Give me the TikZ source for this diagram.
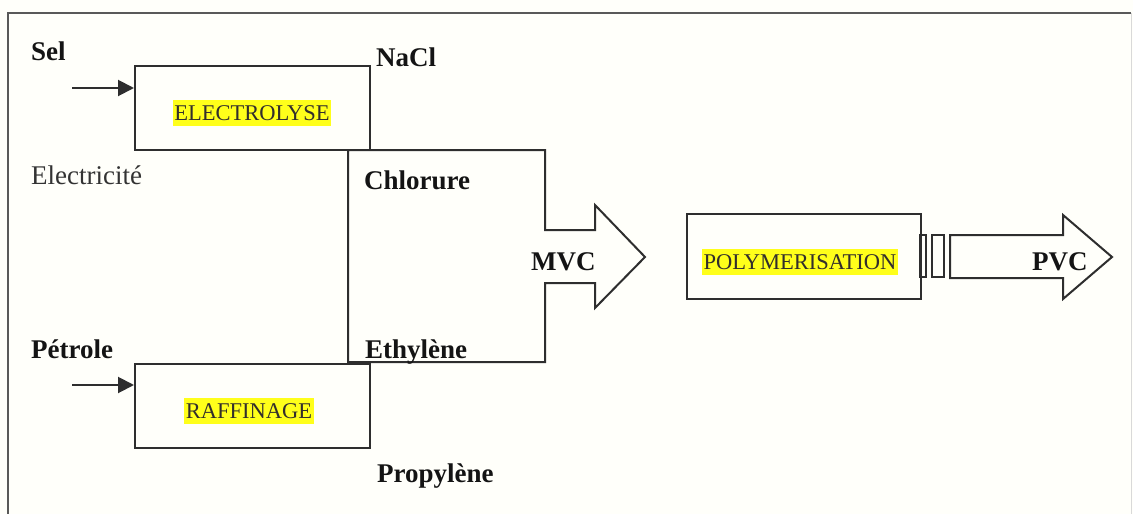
\documentclass[tikz,border=0pt]{standalone}
\usepackage{fontspec}
\setmainfont{Liberation Serif}
\usetikzlibrary{arrows.meta}
\definecolor{ln}{HTML}{2E2E2E}
\definecolor{hl}{HTML}{FFFF1A}
\begin{document}
\begin{tikzpicture}[x=1pt,y=-1pt,
  box/.style={draw=ln,line width=2pt,minimum width=235pt,minimum height=84pt,inner sep=0pt},
  boxlabel/.style={fill=hl,inner xsep=1.5pt,inner ysep=5pt,font=\fontsize{22.5}{24}\selectfont,text=black!90!yellow!70!black},
  lab/.style={inner sep=0pt,anchor=base west,font=\fontsize{27}{30}\selectfont\bfseries,text=black!92},
  reg/.style={inner sep=0pt,anchor=base west,font=\fontsize{27}{30}\selectfont,text=black!80},
  inarrow/.style={draw=ln,line width=2pt,-{Triangle[length=16pt,width=16pt]}},
  outline/.style={draw=ln,line width=2pt,line join=miter}]
\useasboundingbox (0,0) rectangle (1133,514);
\fill[white!98!yellow] (0,0) rectangle (1133,514);
% frame
\draw[draw=black!65,line width=2.5pt] (8,514) -- (8,13) -- (1131,13);
\draw[draw=black!15,line width=1pt] (1131,13) -- (1131,514);
% process boxes
\node[box] (elec) at (252.5,108) {};
\node[box] (raff) at (252.5,405.5) {};
\node[box,minimum width=234pt,minimum height=85pt] (poly) at (804,256.5) {};
\node[boxlabel] (elect) at (252,113) {ELECTROLYSE};
\node[boxlabel] (rafft) at (249,411) {RAFFINAGE};
\node[boxlabel] (polyt) at (800,262) {POLYMERISATION};
% input arrows
\coordinate (selin) at (72,88);
\coordinate (petin) at (72,385);
\draw[inarrow] (selin) -- (selin -| elec.west);
\draw[inarrow] (petin) -- (petin -| raff.west);
% combined box with MVC arrow
\draw[outline] (348,150) -- (545,150) -- (545,230) -- (595,230) -- (595,205) -- (645,257)
  -- (595,308) -- (595,283) -- (545,283) -- (545,362) -- (348,362) -- cycle;
% PVC arrow and connectors
\draw[outline] (920,235) rectangle (926,277);
\draw[outline] (932,235) rectangle (944,277);
\draw[outline] (950,235) -- (1063,235) -- (1063,215) -- (1112,257) -- (1063,299) -- (1063,278) -- (950,278) -- cycle;
% labels
\node[lab] (sel) at (31,60) {Sel};
\node[lab] (nacl) at (376,66) {NaCl};
\node[reg] (elecy) at (31,184) {Electricité};
\node[lab] (chl) at (364,189) {Chlorure};
\node[lab] (mvc) at (531,270) {MVC};
\node[lab] (eth) at (365,358) {Ethylène};
\node[lab] (pet) at (31,358) {Pétrole};
\node[lab] (prop) at (377,482) {Propylène};
\node[lab] (pvc) at (1032,270) {PVC};
\end{tikzpicture}
\end{document}
